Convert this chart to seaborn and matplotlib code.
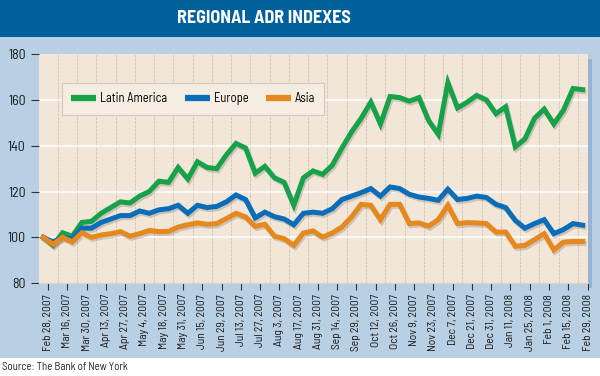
import numpy as np
import pandas as pd
import matplotlib
matplotlib.use("Agg")
import matplotlib.pyplot as plt
import matplotlib.patheffects as pe
from matplotlib.patches import Rectangle
import seaborn as sns

# tick labels (every second weekly point)
tick_labels = ["Feb 28, 2007", "Mar 16, 2007", "Mar 30, 2007", "Apr 13, 2007", "Apr 27, 2007",
               "May 4, 2007", "May 18, 2007", "May 31, 2007", "Jun 15, 2007", "Jun 29, 2007",
               "Jul 13, 2007", "Jul 27, 2007", "Aug 3, 2007", "Aug 17, 2007", "Aug 31, 2007",
               "Sep 14, 2007", "Sep 29, 2007", "Oct 12, 2007", "Oct 26, 2007", "Nov 9, 2007",
               "Nov 23, 2007", "Dec 7, 2007", "Dec 21, 2007", "Dec 31, 2007", "Jan 11, 2008",
               "Jan 25, 2008", "Feb 1, 2008", "Feb 15, 2008", "Feb 29, 2008"]

latin_america = [100, 96.5, 102, 100.5, 106.5, 107, 110.5, 113, 115.5, 115, 118, 120, 124.5, 124,
                 130.5, 125.5, 133, 130.5, 130, 136, 141, 139, 128, 131, 126, 124, 114, 126, 129,
                 127.5, 131.5, 139, 146, 152, 159, 149.5, 161.5, 161, 159.5, 161, 151, 145, 167.5,
                 156.5, 159, 162, 160, 154, 157, 139.5, 143, 152, 156, 149.5, 155.5, 165, 164.5]
europe = [100, 98, 100, 99.5, 104, 104, 106.5, 108, 109.5, 109.5, 111.5, 110.5, 112, 112.5, 114,
          110.5, 114, 113, 113.5, 115.5, 118.5, 116.5, 108.5, 111, 109, 108, 105.5, 110.5, 111,
          110.5, 112.5, 116.5, 118, 119.5, 121.3, 118, 122, 121.3, 118.8, 117.6, 117, 116.2, 121,
          116.5, 117, 118, 117.4, 114.4, 113, 107.4, 104, 106, 107.7, 101.6, 103.4, 106, 105.3]
asia = [100, 97, 100, 98, 102, 100, 101, 101.6, 102.5, 100.5, 101.6, 103, 102.5, 102.6, 104.5,
        105.5, 106.3, 105.7, 106, 108.2, 110.5, 108.9, 104.8, 105.7, 100.5, 99.4, 96.5, 101.9,
        102.8, 100.1, 101.9, 104.5, 108.9, 114.4, 114, 107.7, 114.4, 114.4, 106, 106.3, 104.9,
        107.7, 114, 106, 106.4, 106.3, 106, 102.3, 102.3, 96.1, 96.5, 99, 101.6, 94.5, 97.9,
        98.2, 98.2]

series = ["Latin America", "Europe", "Asia"]
colors = ["#17A24A", "#0A6DBA", "#E5881D"]

n = len(latin_america)
df = pd.DataFrame({
    "week": np.tile(np.arange(n), 3),
    "value": latin_america + europe + asia,
    "region": np.repeat(series, n),
})

plt.rcParams["font.family"] = ["Barlow Semi Condensed", "Roboto Condensed", "DejaVu Sans"]

fig = plt.figure(figsize=(6, 3.76), dpi=100)
fig.patch.set_facecolor("white")

# background panels
fig.patches.append(Rectangle((0, 0.048), 1, 0.854, transform=fig.transFigure,
                             facecolor="#B9CFE4", edgecolor="none", zorder=-10))
fig.patches.append(Rectangle((0, 0.9016), 1, 0.0984, transform=fig.transFigure,
                             facecolor="#00609C", edgecolor="none", zorder=-10))
fig.text(0.44, 0.952, "REGIONAL ADR INDEXES", color="white", fontsize=13,
         fontweight="bold", ha="center", va="center")
fig.text(0.004, 0.024, "Source: The Bank of New York", fontsize=7.8, color="#222222",
         ha="left", va="center")

ax = fig.add_axes([0.065, 0.247, 0.915, 0.609])
ax.set_facecolor("#F2E6D9")

# shadow strip at right of plot
ax.add_patch(Rectangle((1.0, -0.02), 0.008, 1.0, transform=ax.transAxes,
                       facecolor="#97B3D2", edgecolor="none", clip_on=False))

sns.lineplot(data=df, x="week", y="value", hue="region", palette=colors,
             linewidth=3.6, ax=ax, legend=False)
for line in ax.lines:
    line.set_solid_joinstyle("miter")
    line.set_path_effects([pe.SimpleLineShadow(offset=(1, -1.5), shadow_color="#8a7f70", alpha=0.35),
                           pe.Normal()])

ax.set_xlim(-0.45, 56.55)
ax.set_ylim(80, 180)
ax.set_yticks([80, 100, 120, 140, 160, 180])
ax.set_xticks(np.arange(0, n, 2) + 0.5)
ax.set_xticklabels(tick_labels, rotation=90, fontsize=8.3, color="#1a1a1a")
ax.tick_params(axis="y", labelsize=10, length=6, color="#333333", labelcolor="#1a1a1a")
ax.tick_params(axis="x", length=5, color="#333333", pad=3)
ax.set_xlabel("")
ax.set_ylabel("")

# grid
for yv in [100, 120, 140, 160]:
    ax.axhline(yv, color="white", linewidth=1.1, zorder=0.5)
for xv in np.arange(1.5, 56, 2):
    ax.axvline(xv, color="#D6C9BA", linewidth=0.7, linestyle=(0, (3, 1)), zorder=0.4)

for side in ["top", "right", "left"]:
    ax.spines[side].set_visible(False)
ax.spines["bottom"].set_color("#D9CFC3")

# legend
handles = [plt.Line2D([], [], color=c, linewidth=4.5, solid_capstyle="butt") for c in colors]
leg = ax.legend(handles, series, loc="upper left", bbox_to_anchor=(0.042, 0.875), ncol=3,
                fontsize=9, handlelength=2.0, frameon=True, fancybox=False,
                borderpad=0.75, columnspacing=1.4, handletextpad=0.3, borderaxespad=0)
leg.get_frame().set_facecolor("#F5ECE2")
leg.get_frame().set_edgecolor("#D4C8BA")
leg.get_frame().set_alpha(1)
leg.get_frame().set_linewidth(0.8)

fig.savefig("out.png", dpi=100)
